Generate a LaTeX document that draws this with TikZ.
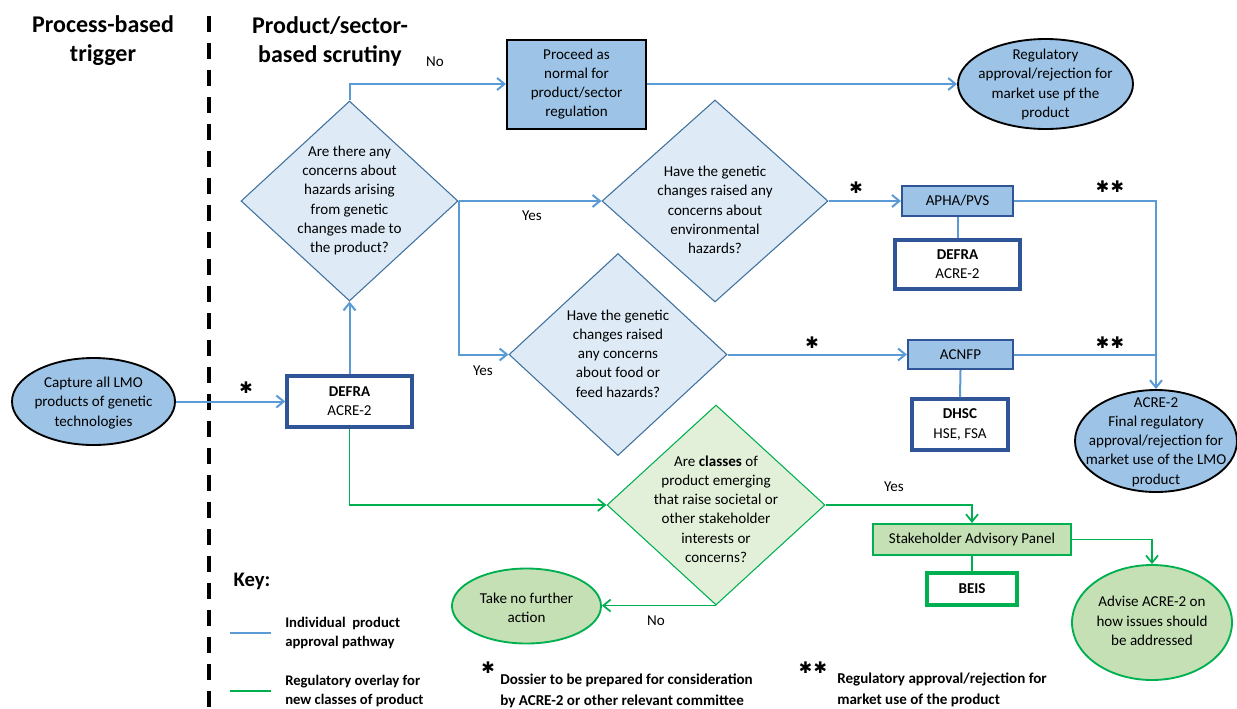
\documentclass[tikz,border=0pt]{standalone}
\usepackage{fontspec}
\setmainfont{Carlito}
\newfontfamily\symfont{DejaVu Sans}
\usetikzlibrary{shapes.geometric,arrows.meta}
\definecolor{lblue}{HTML}{9DC3E6}
\definecolor{dblue}{HTML}{2F5597}
\definecolor{dmfill}{HTML}{DEEBF7}
\definecolor{dmdraw}{HTML}{41719C}
\definecolor{cblue}{HTML}{5B9BD5}
\definecolor{gline}{HTML}{00B050}
\definecolor{gfill}{HTML}{C5E0B4}
\definecolor{gdfill}{HTML}{E2F0D9}
\tikzset{
  txt/.style={font=\fontsize{11.3}{14.4}\selectfont, align=center, inner sep=0pt},
  head/.style={font=\bfseries\fontsize{18}{21.75}\selectfont, align=center, inner sep=0pt},
  leg/.style={font=\bfseries\fontsize{11}{14.25}\selectfont, align=left, inner sep=0pt, anchor=west},
  foot/.style={font=\bfseries\fontsize{11.3}{15.75}\selectfont, align=left, inner sep=0pt, anchor=west},
  starf/.style={font=\symfont\fontsize{12}{12}\selectfont, inner sep=0pt},
  ellB/.style 2 args={ellipse, draw=black, line width=1.4pt, fill=lblue, minimum width=#1*0.75pt, minimum height=#2*0.75pt, inner sep=0pt},
  ellG/.style 2 args={ellipse, draw=gline, line width=1.4pt, fill=gfill, minimum width=#1*0.75pt, minimum height=#2*0.75pt, inner sep=0pt},
  diaB/.style 2 args={diamond, draw=dmdraw, line width=0.8pt, fill=dmfill, minimum width=#1*0.75pt, minimum height=#2*0.75pt, inner sep=0pt},
  diaG/.style 2 args={diamond, draw=gline, line width=0.8pt, fill=gdfill, minimum width=#1*0.75pt, minimum height=#2*0.75pt, inner sep=0pt},
  boxW/.style 2 args={rectangle, draw=dblue, line width=2.6pt, fill=white, minimum width=#1*0.75pt, minimum height=#2*0.75pt, txt},
  boxL/.style 2 args={rectangle, draw=dblue, line width=1.6pt, fill=lblue, minimum width=#1*0.75pt, minimum height=#2*0.75pt, txt},
  boxP/.style 2 args={rectangle, draw=black, line width=1.5pt, fill=lblue, minimum width=#1*0.75pt, minimum height=#2*0.75pt, txt},
  boxG/.style 2 args={rectangle, draw=gline, line width=1.6pt, fill=gfill, minimum width=#1*0.75pt, minimum height=#2*0.75pt, txt},
  boxGW/.style 2 args={rectangle, draw=gline, line width=2.6pt, fill=white, minimum width=#1*0.75pt, minimum height=#2*0.75pt, txt},
  bline/.style={draw=cblue, line width=1.5pt},
  gln/.style={draw=gline, line width=1.3pt},
  arr/.style={-{Straight Barb[length=5.5pt,width=9pt]}}
}
\begin{document}
\begin{tikzpicture}[x=0.75pt,y=-0.75pt]
\useasboundingbox (0,0) rectangle (1237,708);

% divider
\coordinate (divtop) at (209,16);
\coordinate (divbot) at (209,710);
\draw[line width=3pt, dash pattern=on 12pt off 8.25pt] (divtop) -- (divbot);

% headers
\node[head] (h1) at (103,41) {Process-based\\trigger};
\node[head] (h2) at (330,41) {Product/sector-\\based scrutiny};

% nodes
\node[ellB={163}{87}] (cap) at (93.5,401.5) {};
\node[txt] (capt) at (93.5,403) {Capture all LMO\\products of genetic\\technologies};

\node[boxW={125}{51}] (defra1) at (349.5,401.5) {\textbf{DEFRA}\\ACRE-2};

\node[diaB={217}{200}] (d1) at (349.5,201) {};
\node[txt] (d1t) at (349.5,200.5) {Are there any\\concerns about\\hazards arising\\from genetic\\changes made to\\the product?};

\node[boxP={139}{89}] (proc) at (576.5,84) {Proceed as\\normal for\\product/sector\\regulation};

\node[ellB={175}{90}] (reg) at (1045.5,84) {};
\node[txt] (regt) at (1045.5,84.5) {Regulatory\\approval/rejection for\\market use pf the\\product};

\node[diaB={226}{202}] (d2) at (715,201) {};
\node[txt] (d2t) at (715,210) {Have the genetic\\changes raised any\\concerns about\\environmental\\hazards?};

\node[boxL={111}{30}] (apha) at (957.5,201) {APHA/PVS};
\node[boxW={125}{49}] (defra2) at (957.5,264.5) {\textbf{DEFRA}\\ACRE-2};

\node[diaB={218}{202}] (d3) at (618,354.5) {};
\node[txt] (d3t) at (618,353.5) {Have the genetic\\changes raised\\any concerns\\about food or\\feed hazards?};

\node[boxL={105}{29}] (acnfp) at (960.5,354.5) {ACNFP};
\node[boxW={96}{51}] (dhsc) at (960,424.5) {\textbf{DHSC}\\HSE, FSA};

\node[ellB={162}{102}] (acre) at (1156,441) {};
\node[txt] (acret) at (1156,442) {ACRE-2\\Final regulatory\\approval/rejection for\\market use of the LMO\\product};

\node[diaG={218}{200}] (d4) at (716,505) {};
\node[txt] (d4t) at (716,509) {Are \textbf{classes} of\\product emerging\\that raise societal or\\other stakeholder\\interests or\\concerns?};

\node[boxG={198}{31}] (sap) at (972,539.5) {Stakeholder Advisory Panel};
\node[boxGW={90}{32}] (beis) at (972,589) {\textbf{BEIS}};

\node[ellG={160}{115}] (adv) at (1152,622.5) {};
\node[txt] (advt) at (1152,621) {Advise ACRE-2 on\\how issues should\\be addressed};

\node[ellG={149}{75}] (take) at (526.5,606) {};
\node[txt] (taket) at (526.5,608) {Take no further\\action};

% blue connectors
\draw[bline,arr] (cap.east) -- (defra1.west);
\draw[bline,arr] (defra1.north) -- (d1.south);
\draw[bline,arr] (d1.north) |- (proc.west);
\draw[bline,arr] (proc.east) -- (reg.west);
\draw[bline,arr] (d1.east) -- (d2.west);
\draw[bline,arr] (d1.east) |- (d3.west);
\draw[bline,arr] (d2.east) -- (apha.west);
\draw[bline,arr] (d3.east) -- (acnfp.west);
\draw[bline,arr] (apha.east) -| (acre.north);
\draw[bline] (acnfp.east) -- (acnfp.east -| acre.north);
\draw[bline] (apha.south) -- (defra2.north);
\draw[bline] (acnfp.south) -- (dhsc.north);

% green connectors
\draw[gln,arr] (defra1.south) |- (d4.west);
\draw[gln,arr] (d4.east) -| (sap.north);
\draw[gln,arr] (sap.east) -| (adv.north);
\draw[gln] (sap.south) -- (beis.north);
\draw[gln,arr] (d4.south) -- (d4.south -| take.east);

% labels
\node[txt] (no1) at (435,62) {No};
\node[txt] (yes1) at (532,216) {Yes};
\node[txt] (yes2) at (483,371) {Yes};
\node[txt] (yes3) at (894,487) {Yes};
\node[txt] (no2) at (656,621) {No};

\node[starf] (s1) at (246,388) {✱};
\node[starf] (s2) at (856,187.5) {✱};
\node[starf] (s3) at (812,343) {✱};
\node[starf] (s4) at (1110,187) {✱\kern1pt✱};
\node[starf] (s5) at (1110,343) {✱\kern1pt✱};

% key
\node[font=\bfseries\fontsize{15.5}{18}\selectfont, inner sep=0pt] (key) at (252,581) {Key:};
\coordinate (k1a) at (230,633);
\coordinate (k1b) at (271,633);
\draw[bline] (k1a) -- (k1b);
\node[leg] (k1t) at (285,632.5) {Individual\ \ product\\approval pathway};
\coordinate (k2a) at (230,691);
\coordinate (k2b) at (271,691);
\draw[gln] (k2a) -- (k2b);
\node[leg] (k2t) at (285,690.5) {Regulatory overlay for\\new classes of product};

% footnotes
\node[starf] (fs1) at (488,668) {✱};
\node[foot] (f1) at (500,690.5) {Dossier to be prepared for consideration\\by ACRE-2 or other relevant committee};
\node[starf] (fs2) at (813,668) {✱\kern1pt✱};
\node[foot] (f2) at (837,690) {Regulatory approval/rejection for\\market use of the product};
\end{tikzpicture}
\end{document}
